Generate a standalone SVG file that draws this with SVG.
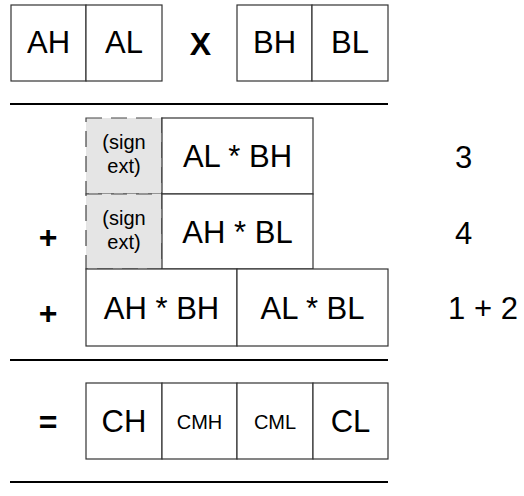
<svg xmlns="http://www.w3.org/2000/svg" width="524" height="496" viewBox="0 0 524 496">
<style>
.box{fill:#fff;stroke:#333;stroke-width:1.2}
.sx{fill:#e5e5e5;stroke:#444;stroke-width:1.2;stroke-dasharray:16 9}
.rule{stroke:#000;stroke-width:2}
text{font-family:"Liberation Sans",Arial,Helvetica,sans-serif;fill:#000;text-anchor:middle}
.big{font-size:31px}
.sm{font-size:20px}
.op{font-size:32px;font-weight:bold}
</style>
<rect width="524" height="496" fill="#fff"/>
<g id="rules">
<line class="rule" x1="10" y1="104" x2="388" y2="104"/>
<line class="rule" x1="10" y1="360" x2="388" y2="360"/>
<line class="rule" x1="10" y1="482" x2="388" y2="482"/>
</g>
<g id="AH"><rect class="box" x="11" y="5" width="75" height="76"/><text class="big" x="48.5" y="53">AH</text></g>
<g id="AL"><rect class="box" x="86" y="5" width="76" height="76"/><text class="big" x="124" y="53">AL</text></g>
<g id="times"><text class="op" x="200.5" y="55">X</text></g>
<g id="BH"><rect class="box" x="237" y="5" width="75" height="76"/><text class="big" x="274.5" y="53">BH</text></g>
<g id="BL"><rect class="box" x="312" y="5" width="76" height="76"/><text class="big" x="350" y="53">BL</text></g>

<g id="sign1"><rect class="sx" x="86" y="118" width="76" height="76"/><text class="sm" x="124" y="149">(sign</text><text class="sm" x="124" y="173">ext)</text></g>
<g id="ALBH"><rect class="box" x="162" y="118" width="151" height="76"/><text class="big" x="237.5" y="167">AL * BH</text></g>
<g id="n3"><text class="big" x="463.5" y="168">3</text></g>

<g id="plus1"><text class="op" x="48" y="248">+</text></g>
<g id="sign2"><rect class="sx" x="86" y="194" width="76" height="75"/><text class="sm" x="124" y="224.5">(sign</text><text class="sm" x="124" y="248.5">ext)</text></g>
<g id="AHBL"><rect class="box" x="162" y="194" width="151" height="75"/><text class="big" x="237.5" y="242.5">AH * BL</text></g>
<g id="n4"><text class="big" x="463.5" y="243.5">4</text></g>

<g id="plus2"><text class="op" x="48" y="324">+</text></g>
<g id="AHBH"><rect class="box" x="86" y="269" width="151" height="77"/><text class="big" x="161.5" y="319">AH * BH</text></g>
<g id="ALBL"><rect class="box" x="237" y="269" width="151" height="77"/><text class="big" x="312.5" y="319">AL * BL</text></g>
<g id="n12"><text class="big" x="483" y="319">1 + 2</text></g>

<g id="equals"><text class="op" x="48" y="433">=</text></g>
<g id="CH"><rect class="box" x="86" y="383" width="76" height="76"/><text class="big" x="124" y="432">CH</text></g>
<g id="CMH"><rect class="box" x="162" y="383" width="75" height="76"/><text class="sm" x="199.5" y="428.5">CMH</text></g>
<g id="CML"><rect class="box" x="237" y="383" width="76" height="76"/><text class="sm" x="275" y="428.5">CML</text></g>
<g id="CL"><rect class="box" x="313" y="383" width="75" height="76"/><text class="big" x="350.5" y="432">CL</text></g>
</svg>
